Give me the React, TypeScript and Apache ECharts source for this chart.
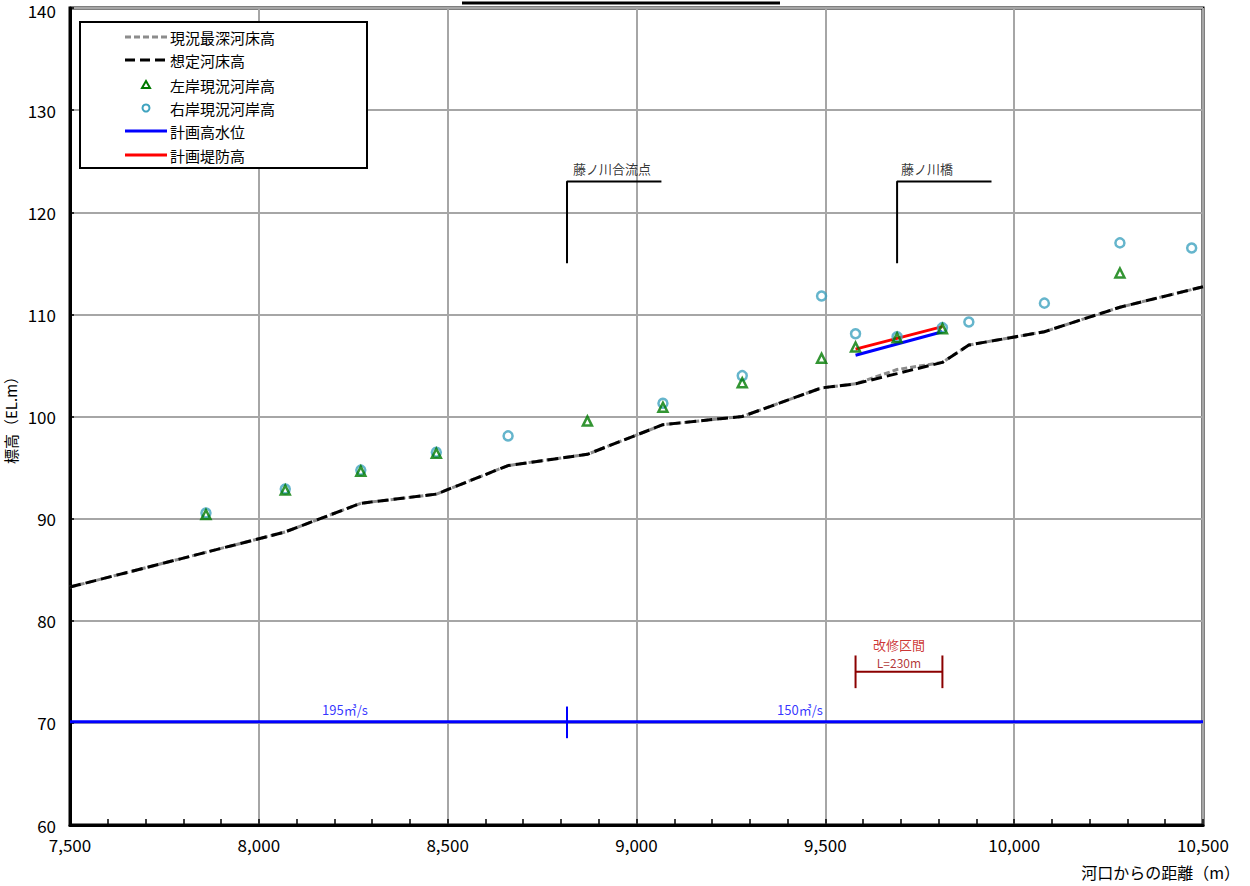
import React, { useEffect, useRef } from "react";
import * as echarts from "echarts";

// ---- data ----
const bedStations = [7500, 7860, 8070, 8270, 8470, 8660, 8870, 9070, 9280, 9490, 9580, 9690, 9810, 9880, 10080, 10280, 10500];
const bedCurrent = [83.3, 86.7, 88.7, 91.5, 92.4, 95.2, 96.3, 99.2, 100.0, 102.8, 103.2, 104.6, 105.3, 107.0, 108.3, 110.7, 112.7];
const bedPlanned = [83.3, 86.7, 88.7, 91.5, 92.4, 95.2, 96.3, 99.2, 100.0, 102.8, 103.2, 104.2, 105.3, 107.0, 108.3, 110.7, 112.7];

const bankStations = [7860, 8070, 8270, 8470, 8660, 8870, 9070, 9280, 9490, 9580, 9690, 9810, 9880, 10080, 10280, 10470];
const leftBank: (number | null)[] = [90.4, 92.8, 94.65, 96.4, null, 99.55, 100.9, 103.3, 105.7, 106.8, 107.7, 108.6, null, null, 114.05, null];
const rightBank: (number | null)[] = [90.55, 92.9, 94.75, 96.5, 98.1, null, 101.3, 104.0, 111.8, 108.1, 107.8, 108.7, 109.25, 111.1, 117.0, 116.5];

const planStations = [9580, 9810];
const planHWL = [106.0, 108.3];
const planLevee = [106.6, 108.8];

const flowLevel = 70.1;
const flowSplit = 8816;
const flowLabels = [
  { x: 8228, y: 71.3, text: "195㎥/s" },
  { x: 9433, y: 71.3, text: "150㎥/s" },
];

const landmarks = [
  { x: 8816, name: "藤ノ川合流点", labelX: 8935 },
  { x: 9690, name: "藤ノ川橋", labelX: 9769 },
];

const repairStart = 9580;
const repairEnd = 9810;
const repairTitle = "改修区間";
const repairLength = "L=230m";

const xMin = 7500, xMax = 10500, xStep = 500;
const yMin = 60, yMax = 140, yStep = 10;

const FONT = "'Noto Sans CJK JP', 'Noto Sans', sans-serif";

const pairs = (xs: number[], ys: (number | null)[]) =>
  xs.map((x, i) => [x, ys[i]]).filter((p) => p[1] !== null);

const textSeries = (name: string, items: { x: number; y: number; text: string }[], color: string, size: number) => ({
  type: "scatter",
  name,
  silent: true,
  symbolSize: 1,
  itemStyle: { color: "rgba(0,0,0,0)" },
  z: 6,
  data: items.map((t) => ({ value: [t.x, t.y], label: { formatter: t.text } })),
  label: { show: true, position: "inside", color, fontSize: size, lineHeight: size, fontFamily: FONT },
});

export default function App() {
  const ref = useRef<HTMLDivElement>(null);
  useEffect(() => {
    if (!ref.current) return;
    const chart = echarts.init(ref.current, null, { renderer: "svg" });

    const series: any[] = [
      {
        type: "line", name: "現況最深河床高", data: pairs(bedStations, bedCurrent),
        symbol: "none", z: 3,
        lineStyle: { color: "#8c8c8c", width: 3, type: [6, 3] },
      },
      {
        type: "line", name: "想定河床高", data: pairs(bedStations, bedPlanned),
        symbol: "none", z: 4,
        lineStyle: { color: "#000", width: 3, type: [11, 5] },
      },
      {
        type: "line", name: "計画高水位", data: pairs(planStations, planHWL),
        symbol: "none", z: 4, lineStyle: { color: "#0000ff", width: 3 },
      },
      {
        type: "line", name: "計画堤防高", data: pairs(planStations, planLevee),
        symbol: "none", z: 4, lineStyle: { color: "#ff0000", width: 3 },
      },
      {
        type: "scatter", name: "右岸現況河岸高", data: pairs(bankStations, rightBank),
        symbol: "circle", symbolSize: 9, z: 5,
        itemStyle: { color: "rgba(255,255,255,0)", borderColor: "#3fa3bf", borderWidth: 2.5 },
      },
      {
        type: "scatter", name: "左岸現況河岸高", data: pairs(bankStations, leftBank),
        symbol: "triangle", symbolSize: 9, z: 5,
        itemStyle: { color: "rgba(255,255,255,0)", borderColor: "#007a00", borderWidth: 2.5 },
      },
      // flow line
      {
        type: "line", name: "flow", data: [[xMin, flowLevel], [xMax, flowLevel]],
        symbol: "none", z: 4, silent: true, lineStyle: { color: "#0000ff", width: 3 },
      },
      {
        type: "line", name: "flowSplit", data: [[flowSplit, 68.5], [flowSplit, 71.6]],
        symbol: "none", z: 4, silent: true, lineStyle: { color: "#0000ff", width: 2 },
      },
      textSeries("flowText", flowLabels, "#0000ff", 13),
      // landmark brackets
      ...landmarks.map((l) => ({
        type: "line", name: "lm-" + l.name, data: [[l.x, 115], [l.x, 123], [l.x + 250, 123]],
        symbol: "none", z: 4, silent: true, lineStyle: { color: "#000", width: 2 },
      })),
      textSeries("lmText", landmarks.map((l) => ({ x: l.labelX, y: 124.3, text: l.name })), "#000", 13),
      // repair section
      {
        type: "line", name: "repairH", data: [[repairStart, 75.0], [repairEnd, 75.0]],
        symbol: "none", z: 4, silent: true, lineStyle: { color: "#8b0000", width: 2 },
      },
      {
        type: "line", name: "repairL", data: [[repairStart, 73.4], [repairStart, 76.6]],
        symbol: "none", z: 4, silent: true, lineStyle: { color: "#8b0000", width: 2 },
      },
      {
        type: "line", name: "repairR", data: [[repairEnd, 73.4], [repairEnd, 76.6]],
        symbol: "none", z: 4, silent: true, lineStyle: { color: "#8b0000", width: 2 },
      },
      textSeries("repairTitle", [{ x: (repairStart + repairEnd) / 2, y: 77.7, text: repairTitle }], "#c00000", 13),
      textSeries("repairLen", [{ x: (repairStart + repairEnd) / 2, y: 75.95, text: repairLength }], "#a00000", 12),
    ];

    const lx = 80, ly = 22;
    const legendItems = [
      { y: 37, kind: "dash", color: "#8c8c8c", dash: [6, 3], text: "現況最深河床高" },
      { y: 60, kind: "dash", color: "#000", dash: [10, 5], text: "想定河床高" },
      { y: 85, kind: "tri", color: "#007a00", text: "左岸現況河岸高" },
      { y: 108, kind: "circ", color: "#3fa3bf", text: "右岸現況河岸高" },
      { y: 131, kind: "line", color: "#0000ff", text: "計画高水位" },
      { y: 155, kind: "line", color: "#ff0000", text: "計画堤防高" },
    ];
    const legendGraphics: any[] = [
      { type: "rect", shape: { x: lx, y: ly, width: 287, height: 146 }, style: { fill: "#fff", stroke: "#000", lineWidth: 2 }, z: 100 },
    ];
    legendItems.forEach((it) => {
      if (it.kind === "dash" || it.kind === "line") {
        legendGraphics.push({
          type: "line", shape: { x1: 125, y1: it.y, x2: 167, y2: it.y },
          style: { stroke: it.color, lineWidth: 3, lineDash: it.kind === "dash" ? it.dash : null }, z: 101,
        });
      } else if (it.kind === "tri") {
        legendGraphics.push({
          type: "polygon", shape: { points: [[146, it.y - 4], [142, it.y + 3], [150, it.y + 3]] },
          style: { fill: "none", stroke: it.color, lineWidth: 2 }, z: 101,
        });
      } else {
        legendGraphics.push({
          type: "circle", shape: { cx: 146, cy: it.y, r: 3.5 },
          style: { fill: "none", stroke: it.color, lineWidth: 2 }, z: 101,
        });
      }
      legendGraphics.push({
        type: "text", x: 170, y: it.y,
        style: { text: it.text, fill: "#000", font: `15px ${FONT}`, verticalAlign: "middle" }, z: 101,
      });
    });

    chart.setOption({
      animation: false,
      backgroundColor: "#fff",
      grid: {
        left: 70, right: 47, top: 8, bottom: 61, show: true, borderColor: "#000", borderWidth: 3,
        backgroundColor: "transparent", containLabel: false, outerBoundsMode: "none",
      },
      xAxis: {
        type: "value", min: xMin, max: xMax, interval: xStep,
        axisLine: { show: true, lineStyle: { color: "#000", width: 3 } },
        axisTick: { show: true, inside: true, length: 6, lineStyle: { color: "#000", width: 1.5 } },
        minorTick: { show: true, splitNumber: 5, length: 6, lineStyle: { color: "#000", width: 1.5 } },
        splitLine: { show: true, lineStyle: { color: "#a6a6a6", width: 2 } },
        axisLabel: {
          margin: 11, color: "#000", fontSize: 17, fontFamily: FONT,
          formatter: (v: number) => v.toLocaleString("en-US"),
        },
      },
      yAxis: {
        type: "value", min: yMin, max: yMax, interval: yStep,
        name: "標高（EL.m）", nameLocation: "middle", nameGap: 52, nameRotate: 90, nameMoveOverlap: false,
        nameTextStyle: { color: "#000", fontSize: 15, fontFamily: FONT },
        axisLine: { show: true, lineStyle: { color: "#000", width: 3 } },
        axisTick: { show: true, inside: true, length: 4, lineStyle: { color: "#000", width: 1.5 } },
        splitLine: { show: true, lineStyle: { color: "#a6a6a6", width: 2 } },
        axisLabel: {
          margin: 14, color: "#000", fontSize: 17, lineHeight: 14, fontFamily: FONT,
          formatter: (v: number) => (v === yMax ? `{top|${v}}` : `${v}`),
          rich: { top: { fontSize: 17, lineHeight: 14, padding: [4, 0, 0, 0], fontFamily: FONT, color: "#000" } },
        },
      },
      graphic: [
        { type: "line", shape: { x1: 462, y1: 3, x2: 780, y2: 3 }, style: { stroke: "#000", lineWidth: 3 }, z: 100 },
        {
          type: "text", x: 1240, y: 872,
          style: { text: "河口からの距離（m）", fill: "#000", font: `16px ${FONT}`, align: "right", verticalAlign: "middle" }, z: 100,
        },
        ...legendGraphics,
      ],
      series,
    });
    return () => chart.dispose();
  }, []);
  return <div ref={ref} style={{ position: "fixed", left: 0, top: 0, width: 1250, height: 886, background: "#fff" }} />;
}
